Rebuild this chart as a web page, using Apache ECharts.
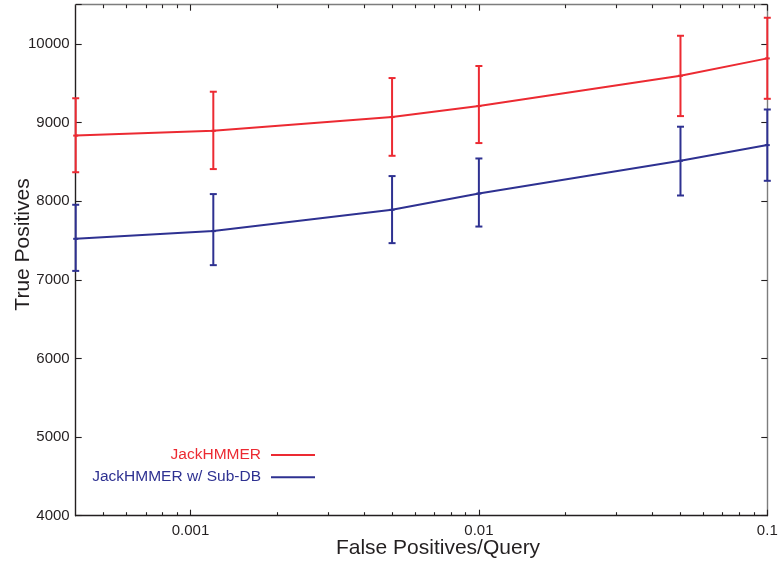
<!DOCTYPE html>
<html>
<head>
<meta charset="utf-8">
<title>True Positives vs False Positives/Query</title>
<script src="https://cdn.jsdelivr.net/npm/echarts@6/dist/echarts.min.js"></script>
<style>
  html, body { margin: 0; padding: 0; background: #ffffff; }
  #chart { width: 781px; height: 565px; }
</style>
</head>
<body>
<div id="chart"></div>
<script>
// False positives per query (log-scaled x values)
const fpq = [0.0004, 0.0012, 0.005, 0.01, 0.05, 0.1];

// JackHMMER: mean true positives and error-bar bounds
const jackMean = [8835, 8896, 9071, 9211, 9596, 9817];
const jackLow  = [8369, 8409, 8578, 8740, 9083, 9303];
const jackHigh = [9310, 9393, 9567, 9720, 10105, 10334];

// JackHMMER w/ Sub-DB: mean true positives and error-bar bounds
const subMean = [7522, 7620, 7891, 8098, 8515, 8714];
const subLow  = [7114, 7187, 7467, 7678, 8073, 8260];
const subHigh = [7955, 8091, 8320, 8544, 8948, 9167];

// Axis tick positions
const xMajorTicks = [0.001, 0.01, 0.1];
const xMinorTicks = [
  0.0005, 0.0006, 0.0007, 0.0008, 0.0009,
  0.002, 0.003, 0.004, 0.005, 0.006, 0.007, 0.008, 0.009,
  0.02, 0.03, 0.04, 0.05, 0.06, 0.07, 0.08, 0.09
];
const yTickLabels = [4000, 5000, 6000, 7000, 8000, 9000, 10000];

const seriesNames = ['JackHMMER', 'JackHMMER w/ Sub-DB'];

const RED = '#ec2a32';
const BLUE = '#2e3191';
const INK = '#231f20';
const FRAME_GREY = '#7d7d7d';
const FONT = '"Liberation Sans", Arial, Helvetica, sans-serif';

const chart = echarts.init(document.getElementById('chart'), null, { renderer: 'canvas' });

function zipLine(xs, ys) {
  return xs.map((x, i) => [x, ys[i]]);
}
function zipBars(xs, lo, hi, mid) {
  return xs.map((x, i) => [x, lo[i], hi[i], mid[i]]);
}

function errorBarRenderer(color) {
  return function (params, api) {
    const x = api.value(0);
    const lo = api.coord([x, api.value(1)]);
    const hi = api.coord([x, api.value(2)]);
    const mid = api.coord([x, api.value(3)]);
    const half = 3.5;
    const style = { stroke: color, lineWidth: 2, fill: null };
    return {
      type: 'group',
      children: [
        { type: 'line', shape: { x1: hi[0], y1: hi[1], x2: lo[0], y2: lo[1] }, style: style },
        { type: 'line', shape: { x1: hi[0] - half, y1: hi[1], x2: hi[0] + half, y2: hi[1] }, style: style },
        { type: 'line', shape: { x1: lo[0] - half, y1: lo[1], x2: lo[0] + half, y2: lo[1] }, style: style },
        { type: 'line', shape: { x1: mid[0] - 2.5, y1: mid[1], x2: mid[0] + 2.5, y2: mid[1] }, style: style }
      ]
    };
  };
}

const xBase = {
  type: 'log',
  logBase: 10,
  min: 0.0004,
  max: 0.1,
  gridIndex: 0,
  splitLine: { show: false },
  minorTick: { show: false }
};

function xAxisDef(position, ticks, tickLen, lineShow, lineColor, labels) {
  return Object.assign({}, xBase, {
    position: position,
    axisLine: { show: lineShow, onZero: false, lineStyle: { color: lineColor, width: 1.4 } },
    axisTick: {
      show: true, inside: true, length: tickLen, customValues: ticks,
      lineStyle: { color: INK, width: 1.1 }
    },
    axisLabel: labels ? {
      show: true,
      customValues: xMajorTicks,
      formatter: (v) => String(v),
      color: INK,
      fontSize: 15,
      fontFamily: FONT,
      margin: 8
    } : { show: false }
  });
}

function yAxisDef(position, labels, lineColor) {
  return {
    type: 'value',
    position: position,
    min: 4000,
    max: 10500,
    interval: 1000,
    splitLine: { show: false },
    axisLine: { show: true, onZero: false, lineStyle: { color: lineColor, width: 1.4 } },
    axisTick: { show: true, inside: true, length: 6, lineStyle: { color: INK, width: 1.1 } },
    axisLabel: labels ? {
      show: true,
      color: INK,
      fontSize: 15,
      fontFamily: FONT,
      margin: 6,
      formatter: (v) => (yTickLabels.indexOf(v) >= 0 ? String(v) : '')
    } : { show: false }
  };
}

const option = {
  backgroundColor: '#ffffff',
  animation: false,
  grid: { left: 75.7, right: 13.7, top: 4.7, bottom: 49.3, containLabel: false },
  xAxis: [
    xAxisDef('bottom', xMajorTicks, 6, true, INK, true),
    xAxisDef('bottom', xMinorTicks, 3.5, false, INK, false),
    xAxisDef('top', xMajorTicks, 6, true, FRAME_GREY, false),
    xAxisDef('top', xMinorTicks, 3.5, false, FRAME_GREY, false)
  ],
  yAxis: [
    yAxisDef('left', true, INK),
    yAxisDef('right', false, FRAME_GREY)
  ],
  legend: {
    orient: 'vertical',
    align: 'right',
    right: 465,
    top: 447,
    padding: 0,
    itemWidth: 44,
    itemHeight: 14,
    itemGap: 6.2,
    selectedMode: false,
    itemStyle: { opacity: 0 },
    lineStyle: { width: 2, opacity: 1 },
    textStyle: { fontSize: 15.5, fontFamily: FONT, lineHeight: 14, padding: [0, 5, 0, 0] },
    data: [
      { name: seriesNames[0], textStyle: { color: RED } },
      { name: seriesNames[1], textStyle: { color: BLUE } }
    ]
  },
  graphic: [
    {
      type: 'text',
      x: 438,
      y: 548,
      style: {
        text: 'False Positives/Query',
        fill: INK,
        font: '21px ' + FONT,
        align: 'center',
        verticalAlign: 'middle'
      }
    },
    {
      type: 'text',
      x: 23.5,
      y: 244.5,
      rotation: Math.PI / 2,
      style: {
        text: 'True Positives',
        fill: INK,
        font: '21px ' + FONT,
        align: 'center',
        verticalAlign: 'middle'
      }
    }
  ],
  series: [
    {
      name: seriesNames[0],
      type: 'line',
      xAxisIndex: 0,
      yAxisIndex: 0,
      data: zipLine(fpq, jackMean),
      symbol: 'none',
      lineStyle: { color: RED, width: 2 },
      itemStyle: { color: RED },
      z: 3
    },
    {
      name: seriesNames[1],
      type: 'line',
      xAxisIndex: 0,
      yAxisIndex: 0,
      data: zipLine(fpq, subMean),
      symbol: 'none',
      lineStyle: { color: BLUE, width: 2 },
      itemStyle: { color: BLUE },
      z: 3
    },
    {
      name: seriesNames[0] + ' error',
      type: 'custom',
      xAxisIndex: 0,
      yAxisIndex: 0,
      clip: false,
      data: zipBars(fpq, jackLow, jackHigh, jackMean),
      encode: { x: 0, y: [1, 2] },
      renderItem: errorBarRenderer(RED),
      z: 4
    },
    {
      name: seriesNames[1] + ' error',
      type: 'custom',
      xAxisIndex: 0,
      yAxisIndex: 0,
      clip: false,
      data: zipBars(fpq, subLow, subHigh, subMean),
      encode: { x: 0, y: [1, 2] },
      renderItem: errorBarRenderer(BLUE),
      z: 4
    }
  ]
};

chart.setOption(option);
</script>
</body>
</html>
